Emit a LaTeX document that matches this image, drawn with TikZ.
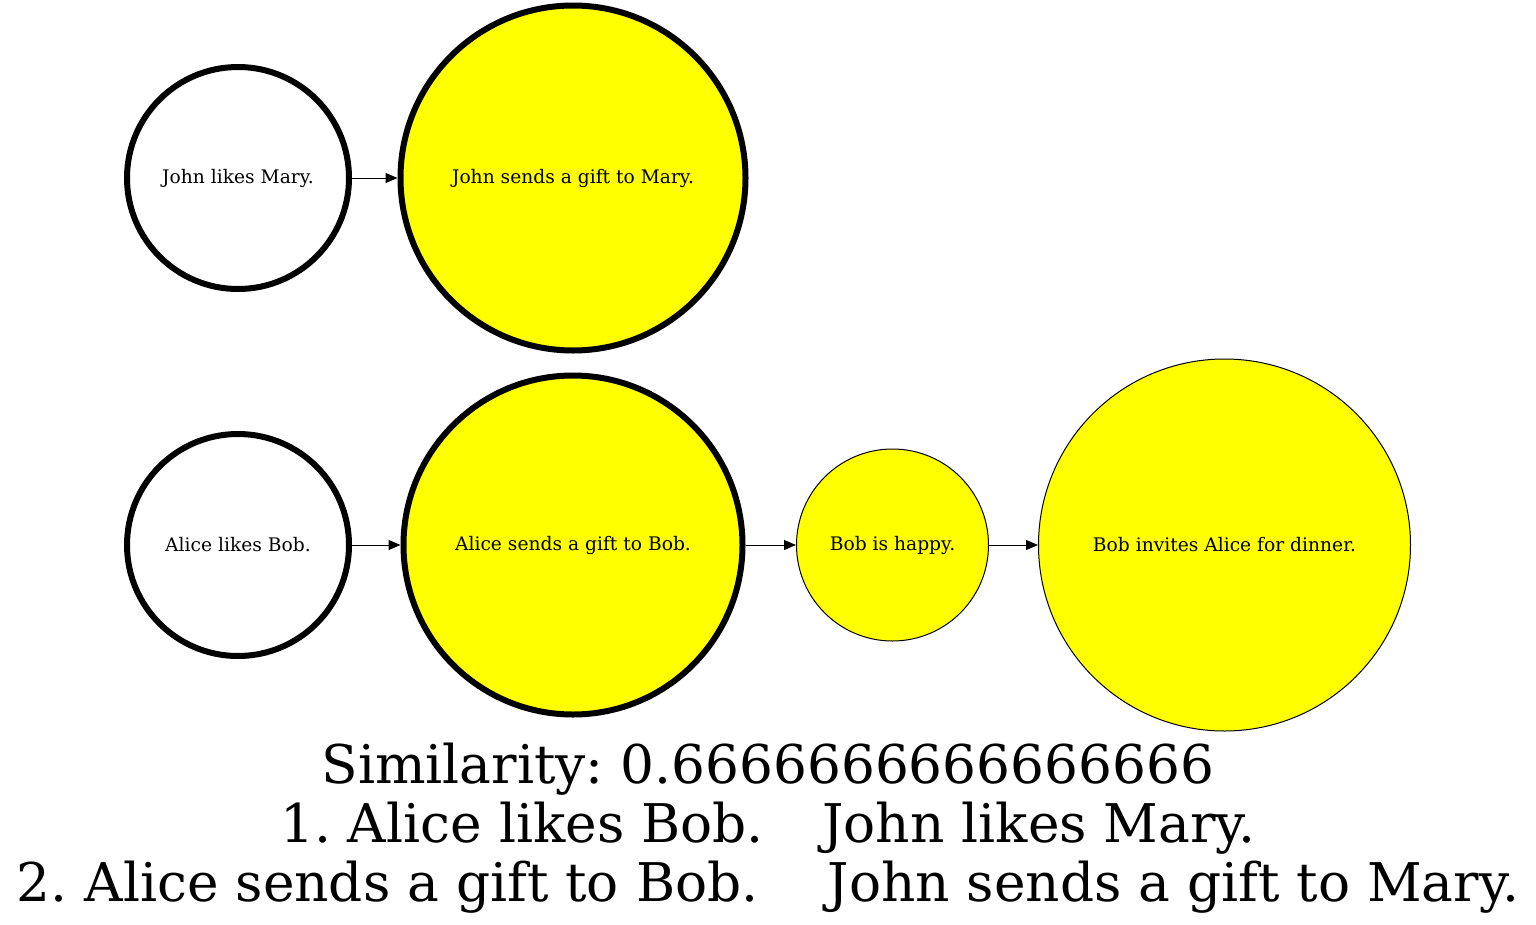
\documentclass[tikz,border=0pt]{standalone}
\usepackage{fontspec}
\setmainfont{DejaVu Serif}
\usepackage{tikz}
\usetikzlibrary{arrows.meta}
\usepackage{xcolor}
\definecolor{gvyellow}{RGB}{255,255,0}
\tikzstyle{event}=[circle,draw=black,inner sep=0pt,font=\fontsize{14}{16}\selectfont]
\tikzstyle{matched}=[event,line width=4.5pt]
\tikzstyle{lone}=[event,line width=0.75pt]
\tikzstyle{link}=[-{Triangle[length=9pt,width=7.5pt]},line width=0.75pt]
\tikzstyle{caption}=[anchor=base,inner sep=0pt,font=\fontsize{40}{44}\selectfont]
\tikzset{>=latex}
\frenchspacing

\begin{document}
\begin{tikzpicture}[x=0.75pt,y=-0.75pt]
  \def\yt{178}  % top row
  \def\yb{545}  % bottom row
  \useasboundingbox (0,0) rectangle (1536,925);

  % TOP ROW
  \node[matched,minimum size=166.5pt] (jlikes) at (238,\yt) {John likes Mary.};
  \node[matched,fill=gvyellow,minimum size=258.75pt] (jsends) at (573,\yt) {John sends a gift to Mary.};

  % BOTTOM ROW
  \node[matched,minimum size=166.5pt] (alikes) at (238,\yb) {Alice likes Bob.};
  \node[matched,fill=gvyellow,minimum size=254.25pt] (asends) at (573,\yb) {Alice sends a gift to Bob.};
  \node[lone,fill=gvyellow,minimum size=144pt] (happy) at (892.5,\yb) {Bob is happy.};
  \node[lone,fill=gvyellow,minimum size=279pt] (dinner) at (1224.5,\yb) {Bob invites Alice for dinner.};

  \draw[link] (jlikes) -- (jsends);
  \draw[link] (alikes) -- (asends);
  \draw[link] (asends) -- (happy);
  \draw[link] (happy) -- (dinner);

  % CAPTION
  \node[caption] (sim) at (768,783) {Similarity: 0.6666666666666666};
  \node[caption] (line1) at (768,842) {1. Alice likes Bob.\hspace{44pt}John likes Mary.};
  \node[caption] (line2) at (768,901) {2. Alice sends a gift to Bob.\hspace{52pt}John sends a gift to Mary.};
\end{tikzpicture}
\end{document}
